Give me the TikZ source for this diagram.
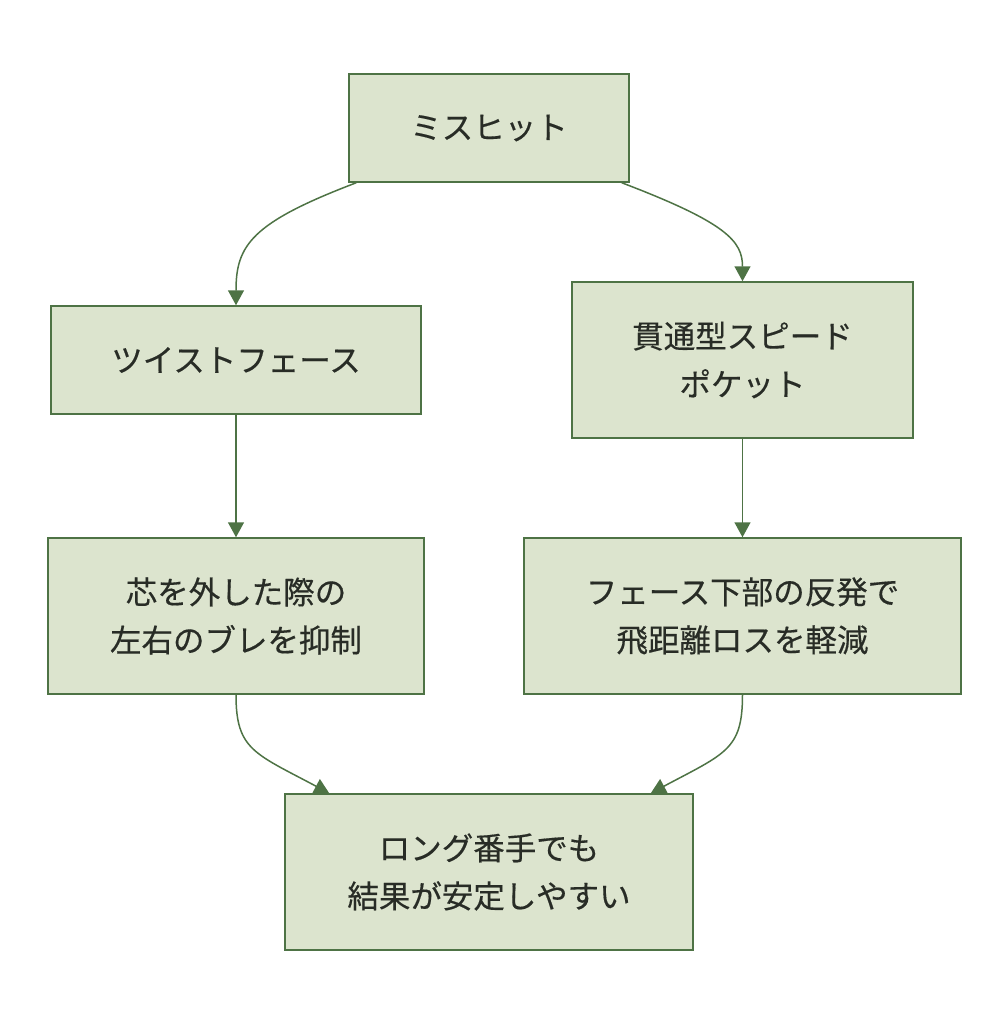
\documentclass[tikz,border=0pt]{standalone}
\usepackage{fontspec}
\usepackage{tikz}
\usetikzlibrary{arrows.meta}
\newfontfamily\jpfont[FakeBold=0.4]{Noto Sans CJK JP}
\definecolor{boxfill}{RGB}{220,228,206}
\definecolor{boxline}{RGB}{78,115,69}
\definecolor{txtcol}{RGB}{40,44,38}

\begin{document}
\begin{tikzpicture}[
  x=1pt, y=-1pt,
  font=\jpfont\fontsize{31.5}{48}\selectfont,
  box/.style={draw=boxline, fill=boxfill, line width=1.5pt, text=txtcol,
              align=center, inner sep=0pt},
  flow/.style={draw=boxline, line width=1.5pt,
               -{Triangle[width=16pt, length=15pt]}}
]
  \useasboundingbox (0,0) rectangle (1008,1028);

  \node[box, minimum width=280pt, minimum height=108pt] (misshit) at (489,128)
    {ミスヒット};
  \node[box, minimum width=370pt, minimum height=108pt] (twist) at (236,360)
    {ツイストフェース};
  \node[box, minimum width=341pt, minimum height=156pt] (pocket) at (742.5,360)
    {貫通型スピード\\ポケット};
  \node[box, minimum width=376pt, minimum height=156pt] (shin) at (236,616)
    {芯を外した際の\\左右のブレを抑制};
  \node[box, minimum width=437pt, minimum height=156pt] (face) at (742.5,616)
    {フェース下部の反発で\\飛距離ロスを軽減};
  \node[box, minimum width=408pt, minimum height=156pt] (long) at (489,872)
    {ロング番手でも\\結果が安定しやすい};

  \draw[flow] ([xshift=8pt]misshit.south west)
    .. controls +(-105,40) and +(0,-60) .. (twist.north);
  \draw[flow] ([xshift=-8pt]misshit.south east)
    .. controls +(105,40) and +(0,-40) .. (pocket.north);
  \draw[flow] (twist) -- (shin);
  \draw[flow] (pocket) -- (face);
  \draw[flow] (shin.south)
    .. controls +(0,55) and +(-75,-40) .. ([xshift=45pt]long.north west);
  \draw[flow] (face.south)
    .. controls +(0,55) and +(75,-40) .. ([xshift=-43pt]long.north east);
\end{tikzpicture}
\end{document}
